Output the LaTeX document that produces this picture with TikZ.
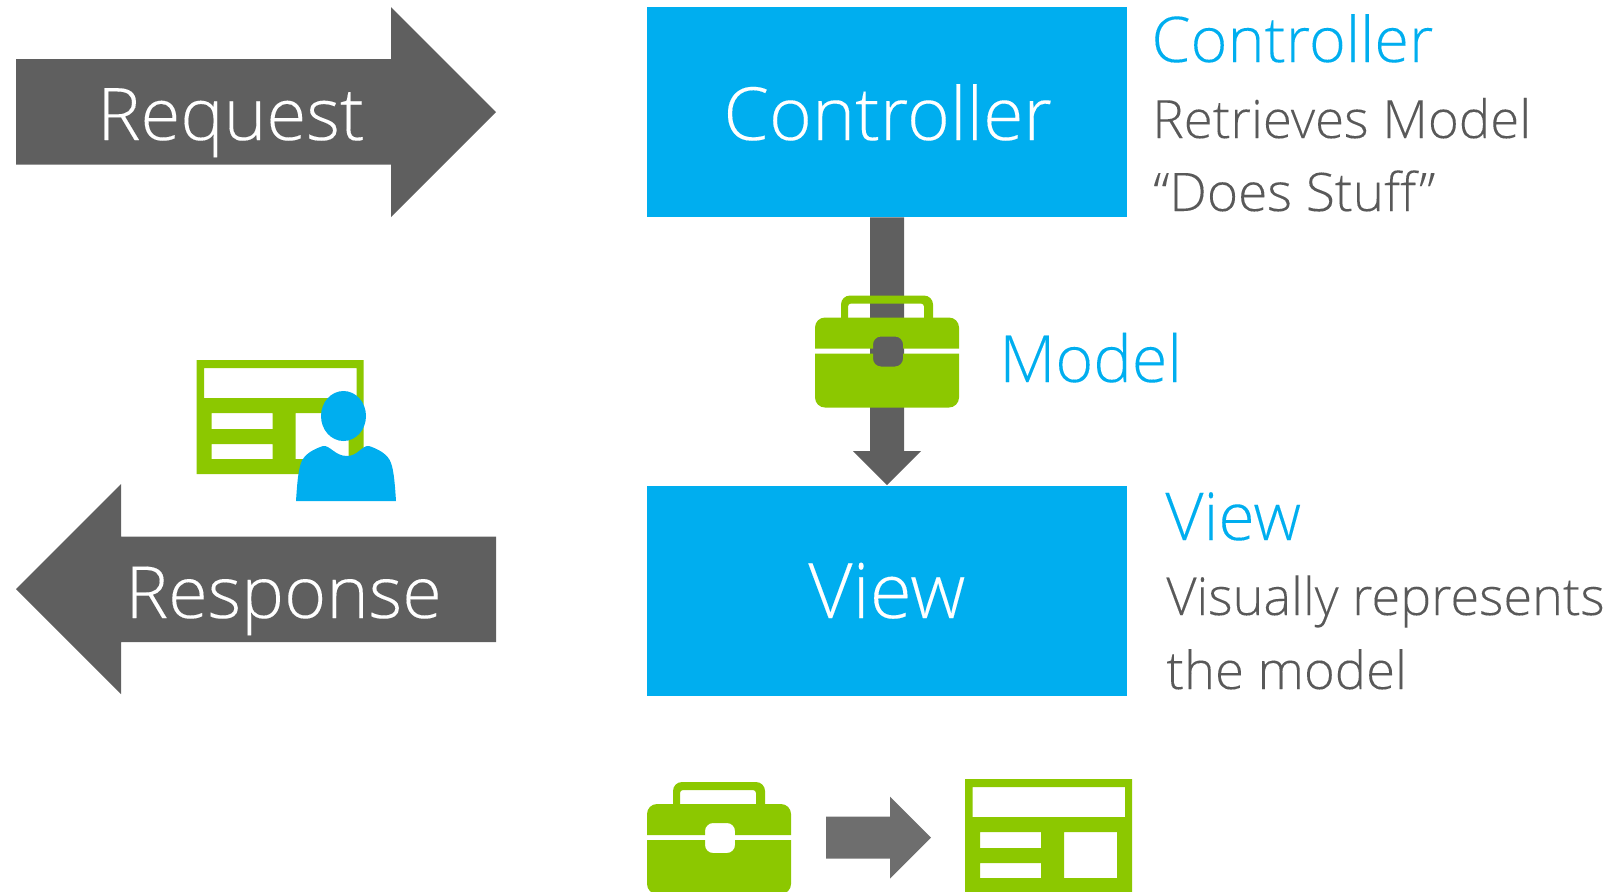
\documentclass[tikz,border=0pt]{standalone}
\usepackage{fontspec}
\setmainfont{Open Sans}[UprightFont={* Light},UprightFeatures={FakeBold=0.12}]
\usetikzlibrary{calc}
\definecolor{skyblue}{HTML}{00AEEF}
\definecolor{leaf}{HTML}{8CC800}
\definecolor{slate}{HTML}{5F5F5F}
\definecolor{midgrey}{HTML}{6E6E6E}
\definecolor{txtgrey}{HTML}{595959}
\newcommand{\fsz}[1]{\fontsize{#1}{#1}\selectfont}
\tikzset{
  bluebox/.style={fill=skyblue,inner sep=0pt,minimum width=240pt,minimum height=105pt},
  txt/.style={inner sep=0pt,anchor=base west},
  inarrow/.style={txt,text=white},
  head/.style={txt,text=skyblue},
  body/.style={txt,text=txtgrey},
}
\newcommand{\toolboxicon}[2]{%
\begin{scope}[shift={(#1,#2)}]
  \fill[leaf] (0,31) [rounded corners=5pt] -- (0,0) -- (144,0) [sharp corners] -- (144,31) -- (88,31) [rounded corners=4pt] -- (88,19) -- (58,19) [sharp corners] -- (58,31) -- cycle;
  \fill[leaf] (0,36) [rounded corners=5pt] -- (0,90) -- (144,90) [sharp corners] -- (144,36) -- (88,36) [rounded corners=4pt] -- (88,49) -- (58,49) [sharp corners] -- (58,36) -- cycle;
  \fill[leaf] (26,1) [rounded corners=4.5pt] -- (26,-22) -- (118,-22) [sharp corners] -- (118,1) -- (109,1) [rounded corners=1.5pt] -- (109,-14) -- (33,-14) [sharp corners] -- (33,1) -- cycle;
\end{scope}}
\newcommand{\screenicon}[2]{%
\begin{scope}[shift={(#1,#2)}]
  \fill[leaf,even odd rule] (0,0) rectangle (167,114)
    (7.5,8) rectangle (160,38)
    (15,53) rectangle (76,69)
    (15,84) rectangle (76,99)
    (99,53) rectangle (152,99);
\end{scope}}
\begin{document}
\begin{tikzpicture}[x=0.5pt,y=-0.5pt]
\useasboundingbox (0,0) rectangle (1612,891);
% request and response arrows
\fill[slate] (16,59) -- (391,59) -- (391,7) -- (496,112) -- (391,217) -- (391,164.5) -- (16,164.5) -- cycle;
\node[inarrow,font=\fsz{36.3}] (req) at (97,140) {Request};
\fill[slate] (496,536.5) -- (121,536.5) -- (121,484) -- (16,589) -- (121,694) -- (121,642) -- (496,642) -- cycle;
\node[inarrow,font=\fsz{36}] (resp) at (125,618) {Response};
% boxes
\node[bluebox] (ctrl) at (887,112) {};
\node[bluebox] (view) at (887,590.5) {};
\node[inarrow,font=\fsz{36.7}] (ctrltxt) at (723,140) {Controller};
\node[inarrow,font=\fsz{38.2}] (viewtxt) at (808,618) {View};
% connector
\fill[slate] ($(ctrl.south)+(-17,0)$) -- ($(ctrl.south)+(17,0)$) -- ($(view.north)+(17,-34)$) -- ($(view.north)+(34,-34)$) -- (view.north) -- ($(view.north)+(-34,-34)$) -- ($(view.north)+(-17,-34)$) -- cycle;
\toolboxicon{815}{317.5}
\node[head,font=\fsz{32.4}] (model) at (999,382) {Model};
% labels
\node[head,font=\fsz{31.5}] (h1) at (1151,62) {Controller};
\node[body,font=\fsz{26.4}] (b1) at (1152,138) {Retrieves Model};
\node[body,font=\fsz{26.6}] (b2) at (1153,211) {“Does Stuff”};
\node[head,font=\fsz{33}] (h2) at (1165,540) {View};
\node[body,font=\fsz{26.1}] (b3) at (1166,615) {Visually represents};
\node[body,font=\fsz{26.3}] (b4) at (1166,689) {the model};
% user icon
\screenicon{196.5}{360}
\fill[skyblue] (343.5,416) ellipse [x radius=22.5,y radius=25];
\fill[skyblue] (296,501) .. controls (297,486) and (298,471) .. (301,463) .. controls (304,454) and (314,449) .. (323,446) .. controls (330,445) and (335,456) .. (347,456) .. controls (358,456) and (362,445) .. (369,446) .. controls (378,449) and (388,454) .. (391,463) .. controls (394,471) and (395,486) .. (396,501) -- cycle;
% bottom row
\toolboxicon{647}{804}
\fill[midgrey] (826,816.5) -- (890,816.5) -- (890,796.5) -- (931,837.5) -- (890,878.5) -- (890,858.5) -- (826,858.5) -- cycle;
\screenicon{965}{779}
\end{tikzpicture}
\end{document}
